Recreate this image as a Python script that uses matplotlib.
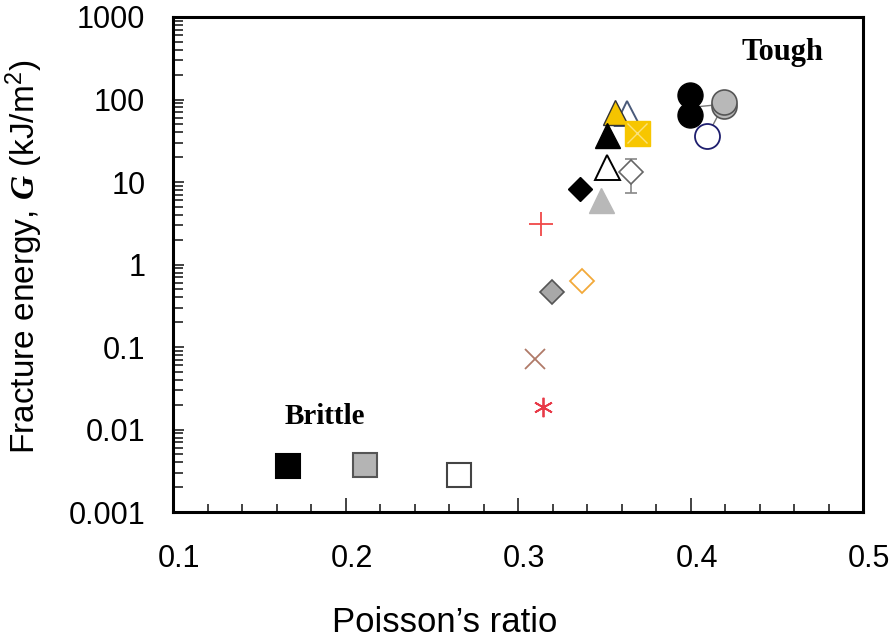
import matplotlib
matplotlib.use("Agg")
import matplotlib.pyplot as plt
import matplotlib.transforms as mtransforms
from matplotlib.ticker import LogLocator, NullFormatter, FixedLocator, MultipleLocator

plt.rcParams['font.family'] = ['Liberation Sans', 'DejaVu Sans']
plt.rcParams['mathtext.fontset'] = 'custom'
plt.rcParams['mathtext.rm'] = 'Liberation Sans'
plt.rcParams['mathtext.it'] = 'Liberation Sans:italic'
plt.rcParams['mathtext.bf'] = 'Liberation Serif:bold'
plt.rcParams['mathtext.bfit'] = 'Liberation Serif:italic:bold'

# ---------- datos ----------
# cuadrados frágiles
sq_x = [0.1667, 0.2113, 0.2658]
sq_g = [0.0036, 0.0037, 0.0028]
sq_fill = ['black', '#b4b4b4', 'white']
sq_edge = ['black', '#555555', '#444444']

# zona de transicion
ast_x, ast_g = [0.3145], [0.0187]
cross_x, cross_g = [0.3100], [0.0716]
plus_x, plus_g = [0.3133], [3.1]
dgray_x, dgray_g = [0.3197], [0.464]
dorange_x, dorange_g = [0.3370], [0.63]
dblack_x, dblack_g = [0.3360], [8.2]
tgray_x, tgray_g = [0.3480], [6.0]

# zona tenaz
topen_x = [0.3516, 0.3632]
topen_g = [15.2, 69]
topen_edge = ['black', '#4a5a7a']
tblack_x, tblack_g = [0.3516], [37]
tyellow_x, tyellow_g = [0.3562], [70]
syellow_x, syellow_g = [0.3690], [39]
derr_x, derr_g = [0.3655], [13.2]
derr_lo, derr_hi = [5.8], [5.8]  # 7.4 .. 19

cblack_x = [0.3997, 0.3997]
cblack_g = [113, 65]
cgray_x = [0.4194, 0.4194]
cgray_g = [84, 93]
cwhite_x, cwhite_g = [0.4096], [36]
link_x = [0.3997, 0.4194, 0.4096]
link_g = [80, 88, 36]

x_ticks = [0.1, 0.2, 0.3, 0.4, 0.5]
x_labels = ['0.1', '0.2', '0.3', '0.4', '0.5']
y_ticks = [0.001, 0.01, 0.1, 1, 10, 100, 1000]
y_labels = ['0.001', '0.01', '0.1', '1', '10', '100', '1000']

# ---------- grafico ----------
fig = plt.figure(figsize=(8.91, 6.39), dpi=100)
ax = fig.add_axes([0.1942, 0.1987, 0.7744, 0.7747])

ax.plot(link_x, link_g, color='#777777', lw=1.0, zorder=2)

for x, g, fc, ec in zip(sq_x, sq_g, sq_fill, sq_edge):
    ax.plot(x, g, marker='s', ms=17, mfc=fc, mec=ec, mew=1.5, ls='none', zorder=3)

ax.plot(ast_x, ast_g, marker=(6, 2, 0), ms=14, color='#e83a48', mew=1.3, ls='none')
ax.plot(cross_x, cross_g, marker='x', ms=15, color='#b07a68', mew=1.3, ls='none')
ax.plot(plus_x, plus_g, marker='+', ms=17, color='#f04848', mew=1.3, ls='none')
ax.plot(dgray_x, dgray_g, marker='D', ms=12.5, mfc='#a8a8a8', mec='#555555', mew=1.2, ls='none')
ax.plot(dorange_x, dorange_g, marker='D', ms=12.5, mfc='white', mec='#f2a93a', mew=1.3, ls='none')
ax.plot(dblack_x, dblack_g, marker='D', ms=12.5, mfc='black', mec='black', ls='none', zorder=3)
ax.plot(tgray_x, tgray_g, marker='^', ms=18, mfc='#b8b8b8', mec='#b8b8b8', ls='none', zorder=3)

for x, g, ec in zip(topen_x, topen_g, topen_edge):
    ax.plot(x, g, marker='^', ms=18, mfc='white', mec=ec, mew=1.4, ls='none', zorder=3)
ax.plot(tyellow_x, tyellow_g, marker='^', ms=18, mfc='#f5c400', mec='#333333', mew=1.0, ls='none', zorder=4)
ax.plot(tblack_x, tblack_g, marker='^', ms=18, mfc='black', mec='black', ls='none', zorder=4)
ax.plot(syellow_x, syellow_g, marker='s', ms=18, mfc='#f7c600', mec='#f7c600', ls='none', zorder=4)
ax.plot(syellow_x, syellow_g, marker='x', ms=15, color='#fbe27a', mew=1.0, ls='none', zorder=5)

ax.errorbar(derr_x, derr_g, yerr=[derr_lo, derr_hi], fmt='D', ms=12.5, mfc='white',
            mec='#666666', mew=1.2, ecolor='#888888', elinewidth=1.2, capsize=4, zorder=3)

ax.plot(cgray_x, cgray_g, marker='o', ms=18, mfc='#b8b8b8', mec='#555555', mew=1.2, ls='none', zorder=3)
ax.plot(cblack_x, cblack_g, marker='o', ms=18, mfc='black', mec='black', ls='none', zorder=4)
ax.plot(cwhite_x, cwhite_g, marker='o', ms=18, mfc='white', mec='#1e1e6e', mew=1.3, ls='none', zorder=3)

ax.text(0.884, 0.929, 'Tough', transform=ax.transAxes, ha='center', va='center',
        family='Liberation Serif', weight='bold', fontsize=22)
ax.text(0.220, 0.192, 'Brittle', transform=ax.transAxes, ha='center', va='center',
        family='Liberation Serif', weight='bold', fontsize=21)

ax.set_yscale('log')
ax.set_xlim(0.1, 0.5)
ax.set_ylim(0.001, 1000)
ax.xaxis.set_major_locator(FixedLocator(x_ticks))
ax.set_xticklabels(x_labels)
ax.xaxis.set_minor_locator(MultipleLocator(0.02))
ax.yaxis.set_major_locator(FixedLocator(y_ticks))
ax.set_yticklabels(y_labels)
ax.yaxis.set_minor_locator(LogLocator(base=10, subs=range(2, 10), numticks=20))
ax.yaxis.set_minor_formatter(NullFormatter())

ax.tick_params(axis='both', which='both', direction='in', top=False, right=False,
               width=1.2, color='#222222')
ax.tick_params(axis='x', which='major', length=10, pad=23, labelsize=22)
ax.tick_params(axis='x', which='minor', length=6)
ax.tick_params(axis='y', which='major', length=8, pad=20, labelsize=22)
ax.tick_params(axis='y', which='minor', length=7)
for s in ax.spines.values():
    s.set_linewidth(2.2)

# las etiquetas del eje x estan un poco corridas a la derecha en el original
shift = mtransforms.ScaledTranslation(6 / 100, 0, fig.dpi_scale_trans)
for lbl in ax.get_xticklabels():
    lbl.set_transform(lbl.get_transform() + shift)

ax.set_xlabel('Poisson\u2019s ratio', fontsize=25)
ax.xaxis.set_label_coords(0.393, -0.19)
ax.set_ylabel(r'Fracture energy, $\mathbfit{G}$ (kJ/m$^2$)', fontsize=24)
ax.yaxis.set_label_coords(-0.186, 0.515)

fig.savefig('out.png', dpi=100)
